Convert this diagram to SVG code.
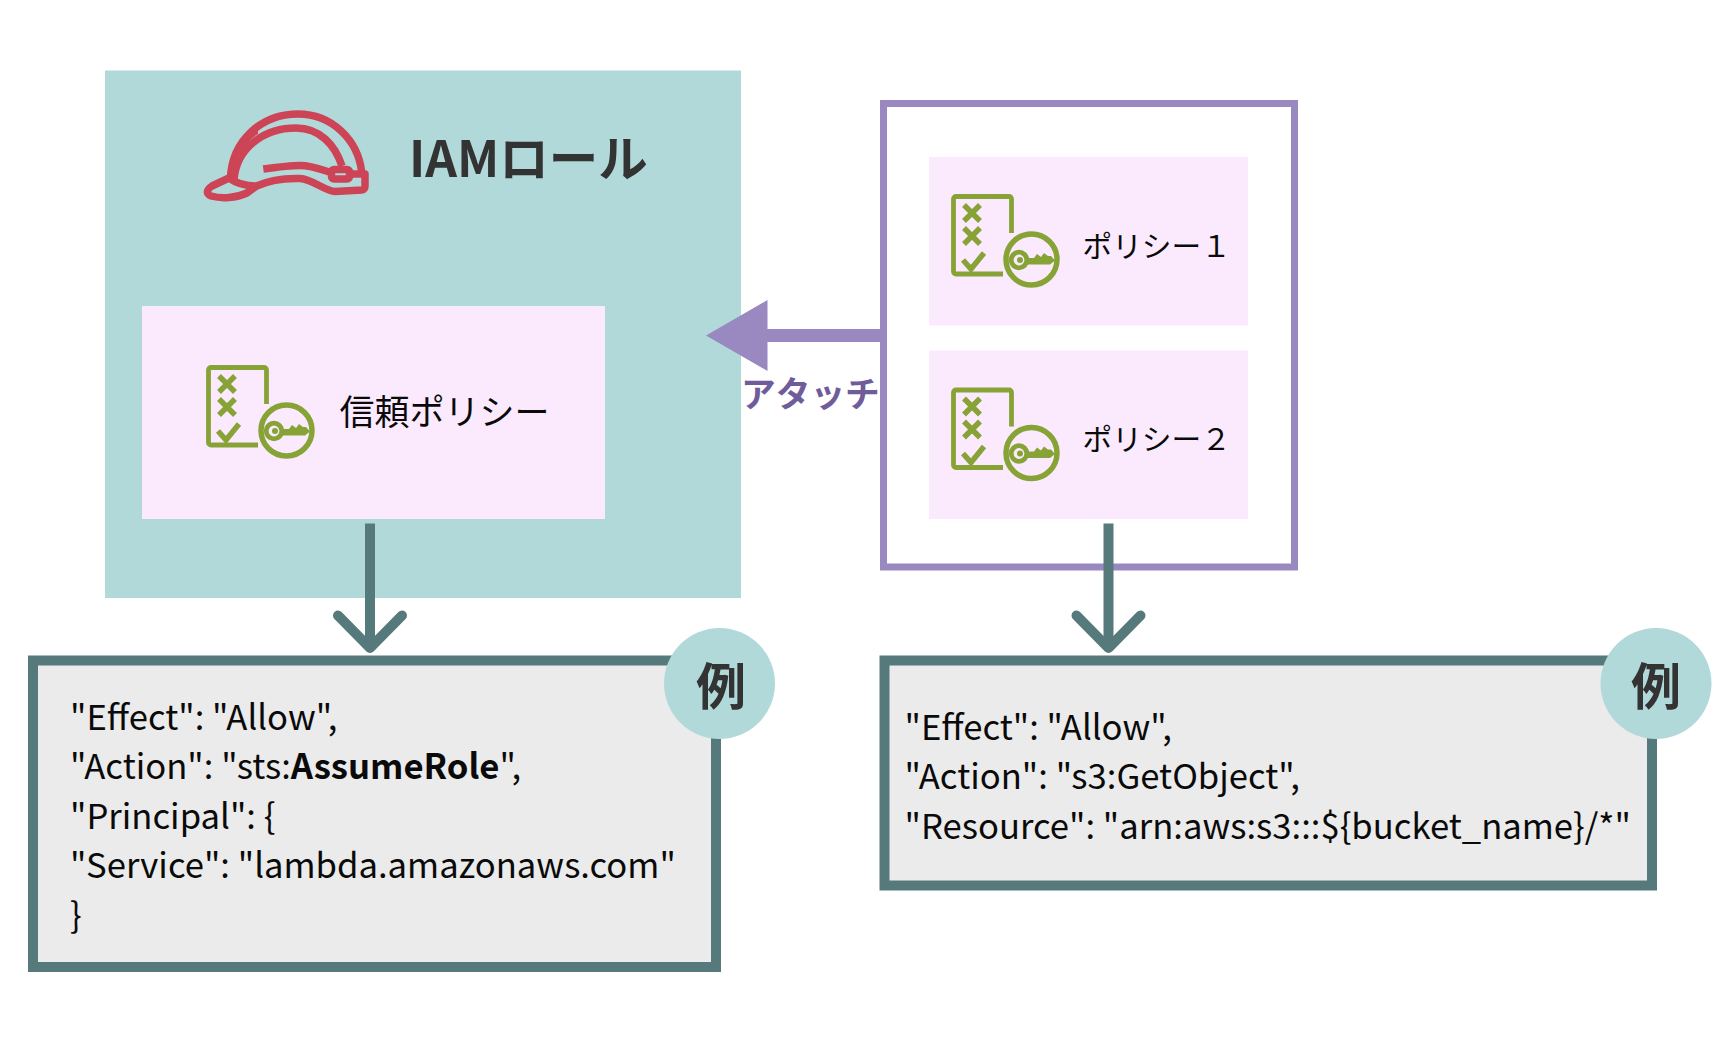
<svg xmlns="http://www.w3.org/2000/svg" width="1730" height="1060" viewBox="0 0 1730 1060">
<style>
text{font-family:"Noto Sans CJK JP","Noto Sans",sans-serif;}
.pink{fill:#fbeafd;}
.code{font-size:34.650px;fill:#0a0a0a;}
.label{font-size:35px;fill:#0a0a0a;}
.small{font-size:29.700px;fill:#0a0a0a;}
.ex{fill:#ebebeb;stroke:#567a7b;stroke-width:10;}
.badge{fill:#b2d9da;}
.rei{font-size:50px;font-weight:700;fill:#333;text-anchor:middle;}
.ic{fill:none;stroke:#87a336;stroke-width:4.800;}
.im{fill:none;stroke:#87a336;stroke-width:5.500;}
.hm{fill:none;stroke:#cc4455;stroke-width:7.500;stroke-linejoin:round;}
.stem{fill:none;stroke:#567a7b;stroke-width:10;}
.down{fill:none;stroke:#567a7b;stroke-width:10;stroke-linecap:round;stroke-linejoin:round;}
</style>
<defs>
<g id="policy-icon">
<path class="ic" d="M266.500 404V370a2.500 2.500 0 0 0-2.500-2.500H211a2.500 2.500 0 0 0-2.500 2.500V442.500a2.500 2.500 0 0 0 2.500 2.500H258"/>
<path class="im" d="M219 376L235 392M235 376L219 392M219 399L235 415M235 399L219 415M218 431L226 440L239 424"/>
<circle class="im" cx="286.500" cy="430.500" r="25.500"/>
<circle class="ic" cx="274" cy="431" r="7.800"/>
<circle cx="275" cy="431" r="3" fill="#87a336"/>
<path fill="#87a336" d="M281 429H289L292 425L296 428L299 424L303 427L306 427L310 431.500L305 435.500H281Z"/>
</g>
</defs>
<g id="iam-role">
<rect x="105" y="70.500" width="636" height="527.500" fill="#b2d9da"/>
<g id="helmet">
<path class="hm" d="M230.500 178C232 140 262 114 298 114C332 114 358 140 361.700 172"/>
<path class="hm" d="M234 180C236 150 262 128 296 128C320 128 335 145 342 166"/>
<path fill="#cc4455" d="M231 178C232 150 243 132 258 122L258 134C245 142 236 160 236 178Z"/>
<path class="hm" d="M263.300 169C278 167 290 165.500 300 165.500C311 165.500 320 169 329 172"/>
<rect class="hm" x="331.500" y="169.500" width="18" height="9.500" rx="2.500"/>
<path class="hm" d="M229 178C237 184 245 186 256.500 186C270 180 285 178 300 178.500C312 179 325 191 335 191.500L362 190C364 190 365 188 365 186V174H350"/>
<path class="hm" d="M229 178L212 186C206 190 206 194 211 196C222 199 236 198 247 193L256.500 186"/>
</g>
<text x="409" y="177" font-size="49.500" font-weight="700" fill="#333">IAMロール</text>
</g>
<g id="trust-policy">
<rect class="pink" x="142" y="306" width="463" height="213"/>
<use href="#policy-icon"/>
<text class="label" x="339.500" y="425">信頼ポリシー</text>
</g>
<g id="policy-group">
<rect x="883.500" y="103.500" width="411" height="463.500" fill="#fff" stroke="#9a88c0" stroke-width="7"/>
</g>
<g id="policy-1">
<rect class="pink" x="929" y="157" width="319" height="168.500"/>
<use href="#policy-icon" x="745" y="-171"/>
<text class="small" x="1082.500" y="257">ポリシー１</text>
</g>
<g id="policy-2">
<rect class="pink" x="929" y="350.500" width="319" height="168.500"/>
<use href="#policy-icon" x="745" y="22.500"/>
<text class="small" x="1082.500" y="450">ポリシー２</text>
</g>
<g id="connectors">
<path d="M880 329H767.500V300L706 335.500L767.500 371V342H880Z" fill="#9a88c0"/>
<path class="stem" d="M370 523.500V648"/>
<path class="down" d="M338 615.500L370 648L402 615.500"/>
<path class="stem" d="M1108.500 523.500V648"/>
<path class="down" d="M1076.500 615.500L1108.500 648L1140.500 615.500"/>
</g>
<text id="attach-label" x="741" y="406.500" font-size="34.700" font-weight="700" fill="#6f5c9a">アタッチ</text>
<g id="example-1">
<rect class="ex" x="33" y="660.500" width="683" height="306.500"/>
<circle class="badge" cx="719.500" cy="683.500" r="55.500"/>
<text class="rei" x="721" y="705">例</text>
<text class="code" x="70" y="729.500">"Effect": "Allow",</text>
<text class="code" x="70" y="779">"Action": "sts:<tspan font-weight="700">AssumeRole</tspan>",</text>
<text class="code" x="70" y="828.500">"Principal": {</text>
<text class="code" x="70" y="878">"Service": "lambda.amazonaws.com"</text>
<text class="code" x="70" y="927.500">}</text>
</g>
<g id="example-2">
<rect class="ex" x="884.500" y="660.500" width="767.500" height="225"/>
<circle class="badge" cx="1656" cy="683.500" r="55.500"/>
<text class="rei" x="1656" y="705">例</text>
<text class="code" x="904.500" y="739.500">"Effect": "Allow",</text>
<text class="code" x="904.500" y="789">"Action": "s3:GetObject",</text>
<text class="code" x="904.500" y="838.500">"Resource": "arn:aws:s3:::${bucket_name}/*"</text>
</g>
</svg>
